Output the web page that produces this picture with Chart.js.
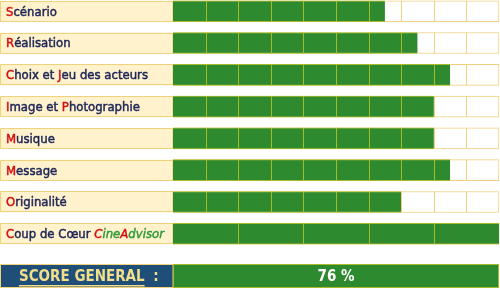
<!DOCTYPE html>
<html>
<head>
<meta charset="utf-8">
<script src="https://cdn.jsdelivr.net/npm/chart.js@4.4.1/dist/chart.umd.min.js"></script>
<style>
  html, body { margin: 0; padding: 0; background: #ffffff; }
  #wrap { width: 500px; height: 295px; }
</style>
</head>
<body>
<div id="wrap"><canvas id="c" width="500" height="295"></canvas></div>
<script>
// ---- data ----
const categories = [
  "Scénario",
  "Réalisation",
  "Choix et Jeu des acteurs",
  "Image et Photographie",
  "Musique",
  "Message",
  "Originalité",
  "Coup de Cœur CineAdvisor"
];
const scores = [6.5, 7.5, 8.5, 8, 8, 8.5, 7, 10];
const maxScore = 10;
const cellSteps = [1, 1, 1, 1, 1, 1, 1, 2];
const scoreTitle = "SCORE GENERAL";
const scorePercent = 76;

// ---- styling (kept apart from data) ----
const labelStyle = {
  "Scénario": { red: [0] },
  "Réalisation": { red: [0] },
  "Choix et Jeu des acteurs": { red: [0, 9] },
  "Image et Photographie": { red: [0, 9] },
  "Musique": { red: [0] },
  "Message": { red: [0] },
  "Originalité": { red: [0] },
  "Coup de Cœur CineAdvisor": { red: [0, 13, 17], italicFrom: 13 }
};
const FONT = '"DejaVu Sans Condensed", "DejaVu Sans", sans-serif';
const C = {
  green: '#2E8A2F',
  greenEdge: '#A8BC2A',
  gold: '#EFD27B',
  cream: '#FFF2CC',
  navy: '#1C2457',
  red: '#D01010',
  italicGreen: '#2E9A3A',
  blue: '#1F4E79',
  scoreText: '#F3DE8A'
};

const tablePlugin = {
  id: 'tablePlugin',
  beforeDatasetsDraw(chart) {
    const ctx = chart.ctx;
    const meta = chart.getDatasetMeta(1);
    ctx.save();
    meta.data.forEach((bar, i) => {
      const h = bar.height;
      const top = bar.y - h / 2;
      ctx.fillStyle = C.cream;
      ctx.fillRect(0, top, chart.chartArea.left, h);
      ctx.strokeStyle = C.gold;
      ctx.lineWidth = 1;
      ctx.strokeRect(0.5, Math.round(top) + 0.5, chart.chartArea.left - 0.5, Math.round(h) - 1);
      // label text
      const label = categories[i];
      const st = labelStyle[label] || { red: [0] };
      let x = 6;
      ctx.textBaseline = 'middle';
      ctx.lineWidth = 0.45;
      ctx.lineJoin = 'round';
      for (let k = 0; k < label.length; k++) {
        const ch = label[k];
        const italic = st.italicFrom !== undefined && k >= st.italicFrom;
        ctx.font = (italic ? 'italic ' : '') + '13px ' + FONT;
        let col;
        if (st.red.includes(k)) col = C.red;
        else col = italic ? C.italicGreen : C.navy;
        ctx.fillStyle = col;
        ctx.strokeStyle = col;
        ctx.fillText(ch, x, bar.y + 1);
        ctx.strokeText(ch, x, bar.y + 1);
        x += ctx.measureText(ch).width;
      }
    });
    ctx.restore();
  },
  afterDatasetsDraw(chart) {
    const ctx = chart.ctx;
    const xs = chart.scales.x;
    const meta = chart.getDatasetMeta(1);
    ctx.save();
    ctx.lineWidth = 1;
    meta.data.forEach((bar, i) => {
      const h = bar.height;
      const top = bar.y - h / 2;
      const step = cellSteps[i];
      for (let v = step; v < maxScore; v += step) {
        const px = Math.round(xs.getPixelForValue(v)) + 0.5;
        ctx.strokeStyle = v < scores[i] ? C.greenEdge : C.gold;
        ctx.beginPath();
        ctx.moveTo(px, top);
        ctx.lineTo(px, top + h);
        ctx.stroke();
      }
    });
    // score row
    const last = meta.data[meta.data.length - 1];
    const sTop = Math.round(last.y + last.height / 2 + 19.5);
    const sH = 24;
    const left = chart.chartArea.left, right = chart.chartArea.right;
    ctx.fillStyle = C.blue;
    ctx.fillRect(0, sTop, left, sH);
    ctx.fillStyle = C.green;
    ctx.fillRect(left, sTop, right - left, sH);
    ctx.strokeStyle = C.gold;
    ctx.strokeRect(0.5, sTop + 0.5, left - 0.5, sH - 1);
    ctx.strokeStyle = C.greenEdge;
    ctx.strokeRect(left + 0.5, sTop + 0.5, right - left - 1, sH - 1);
    // title
    ctx.font = 'bold 15px ' + FONT;
    ctx.fillStyle = C.scoreText;
    ctx.textBaseline = 'middle';
    ctx.textAlign = 'left';
    const tx = 19, ty = sTop + sH / 2 + 1;
    ctx.fillText(scoreTitle, tx, ty);
    const tw = ctx.measureText(scoreTitle).width;
    ctx.fillRect(tx, ty + 8, tw, 1.5);
    ctx.fillText(' :', tx + tw + 4, ty);
    // percent
    ctx.font = 'bold 15px ' + FONT;
    ctx.fillStyle = '#ffffff';
    ctx.textAlign = 'center';
    ctx.fillText(scorePercent + ' %', (left + right) / 2, ty);
    ctx.restore();
  }
};

new Chart(document.getElementById('c'), {
  type: 'bar',
  data: {
    labels: categories,
    datasets: [
      {
        data: scores,
        backgroundColor: C.green,
        borderColor: C.greenEdge,
        borderWidth: { top: 1, bottom: 1, left: 0, right: 0 },
        borderSkipped: false,
        grouped: false,
        barThickness: 21,
        clip: false
      },
      {
        data: scores.map(() => maxScore),
        backgroundColor: '#ffffff',
        borderColor: C.gold,
        borderWidth: 1,
        borderSkipped: false,
        grouped: false,
        barThickness: 21,
        clip: false
      }
    ]
  },
  options: {
    indexAxis: 'y',
    responsive: false,
    animation: false,
    events: [],
    layout: { padding: { left: 173, right: 1, top: 11.25, bottom: 61.25 } },
    plugins: { legend: { display: false }, tooltip: { enabled: false } },
    scales: {
      x: { display: false, min: 0, max: maxScore },
      y: { display: false, offset: false }
    }
  },
  plugins: [tablePlugin]
});
</script>
</body>
</html>
